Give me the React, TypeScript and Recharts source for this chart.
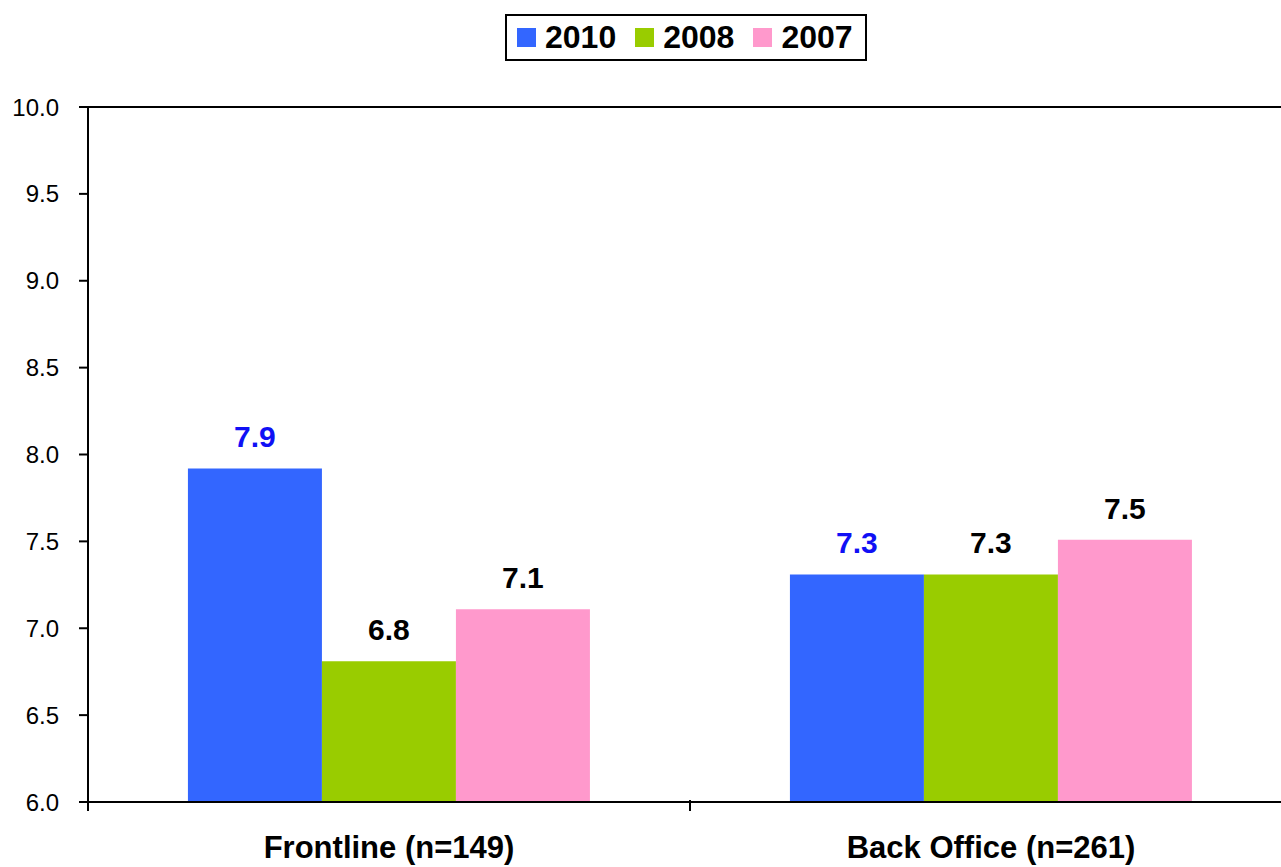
import React from 'react';
import { BarChart, Bar, XAxis, YAxis, LabelList, Legend, ReferenceLine } from 'recharts';

const categories = ['Frontline (n=149)', 'Back Office (n=261)'];
const series2010 = [7.92, 7.31];
const series2008 = [6.81, 7.31];
const series2007 = [7.11, 7.51];
const yTicks = [6.0, 6.5, 7.0, 7.5, 8.0, 8.5, 9.0, 9.5, 10.0];
const seriesNames = ['2010', '2008', '2007'];
const colors = ['#3366ff', '#99cc00', '#ff99cc'];

const data = categories.map((c, i) => ({
  name: c,
  y2010: series2010[i],
  y2008: series2008[i],
  y2007: series2007[i],
}));

const FONT = 'Liberation Sans, Arial, sans-serif';

const LegendBox = () => (
  <div
    style={{
      display: 'inline-flex',
      alignItems: 'center',
      border: '2px solid #000',
      padding: '0 14px 0 10px',
      height: 47,
      width: 362,
      boxSizing: 'border-box',
      fontFamily: FONT,
      fontWeight: 'bold',
      fontSize: 32,
      background: '#fff',
    }}
  >
    {seriesNames.map((n, i) => (
      <div key={n} style={{ display: 'flex', alignItems: 'center', marginLeft: i === 0 ? 0 : 19 }}>
        <div style={{ width: 19, height: 19, background: colors[i], marginRight: 9 }} />
        <span style={{ lineHeight: '43px' }}>{n}</span>
      </div>
    ))}
  </div>
);

const fmt = (v: any) => Number(v).toFixed(1);

const CatTick = (props: any) => {
  const { x, y, payload } = props;
  const half = payload && typeof payload.offset === 'number' ? payload.offset : 0;
  const axisY = y - 36;
  return (
    <g>
      {half > 0 && (
        <>
          <line x1={x - half} x2={x - half} y1={axisY} y2={axisY + 11} stroke="#000" strokeWidth={2} />
          <line x1={x + half} x2={x + half} y1={axisY} y2={axisY + 11} stroke="#000" strokeWidth={2} />
        </>
      )}
      <text
        x={x}
        y={y}
        dy="0.71em"
        textAnchor="middle"
        fill="#000"
        style={{ fontSize: 31, fontWeight: 'bold', fontFamily: FONT }}
      >
        {payload.value}
      </text>
    </g>
  );
};

export default function App() {
  return (
    <div style={{ position: 'absolute', left: 0, top: 0, width: 1281, height: 867, overflow: 'hidden', background: '#fff' }}>
      <BarChart
        width={1293}
        height={867}
        data={data}
        margin={{ top: 60, right: 1, left: 0, bottom: 0 }}
        barCategoryGap="16.6%"
        barGap={0}
      >
        <Legend
          verticalAlign="top"
          height={47}
          content={() => <LegendBox />}
          wrapperStyle={{ top: 14, left: 505, width: 362 }}
        />
        <XAxis
          dataKey="name"
          height={65}
          axisLine={{ stroke: '#000', strokeWidth: 2 }}
          tickLine={false}
          tick={<CatTick />}
          tickMargin={28}
          interval={0}
        />
        <YAxis
          width={88}
          domain={[6, 10]}
          ticks={yTicks}
          tickFormatter={(v: number) => v.toFixed(1)}
          axisLine={{ stroke: '#000', strokeWidth: 2 }}
          tickLine={{ stroke: '#000', strokeWidth: 2 }}
          tickSize={9}
          tickMargin={20}
          tick={{ fill: '#000', fontSize: 24, fontFamily: FONT }}
          interval={0}
        />
        <ReferenceLine y={10} stroke="#000" strokeWidth={2} />
        <Bar dataKey="y2010" name="2010" fill={colors[0]} isAnimationActive={false}>
          <LabelList dataKey="y2010" position="top" offset={21} formatter={fmt}
            style={{ fill: '#1010f5', fontSize: 30, fontWeight: 'bold', fontFamily: FONT }} />
        </Bar>
        <Bar dataKey="y2008" name="2008" fill={colors[1]} isAnimationActive={false}>
          <LabelList dataKey="y2008" position="top" offset={21} formatter={fmt}
            style={{ fill: '#000', fontSize: 30, fontWeight: 'bold', fontFamily: FONT }} />
        </Bar>
        <Bar dataKey="y2007" name="2007" fill={colors[2]} isAnimationActive={false}>
          <LabelList dataKey="y2007" position="top" offset={21} formatter={fmt}
            style={{ fill: '#000', fontSize: 30, fontWeight: 'bold', fontFamily: FONT }} />
        </Bar>
      </BarChart>
    </div>
  );
}
